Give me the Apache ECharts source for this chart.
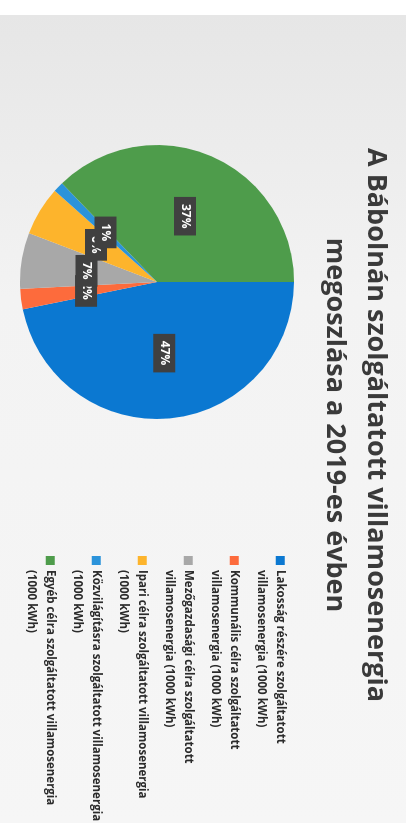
<!DOCTYPE html>
<html>
<head>
<meta charset="utf-8">
<script src="https://cdn.jsdelivr.net/npm/echarts@6/dist/echarts.min.js"></script>
<style>
    html, body {
        margin: 0;
        background: #ffffff;
        overflow: hidden;
    }
    /* a lap el van forgatva 90 fokkal, ezért a diagramot is elforgatjuk */
    #chart {
        position: absolute;
        left: 406px;
        top: 15px;
        width: 808px;
        height: 406px;
        transform-origin: 0 0;
        transform: rotate(90deg);
    }
</style>
</head>
<body>
<div id="chart"></div>
<script>
const categories = [
    'Lakosság részére szolgáltatott\nvillamosenergia (1000 kWh)',
    'Kommunális célra szolgáltatott\nvillamosenergia (1000 kWh)',
    'Mezőgazdasági célra szolgáltatott\nvillamosenergia (1000 kWh)',
    'Ipari célra szolgáltatott villamosenergia\n(1000 kWh)',
    'Közvilágításra szolgáltatott villamosenergia\n(1000 kWh)',
    'Egyéb célra szolgáltatott villamosenergia\n(1000 kWh)'
];
const values = [46.8, 2.4, 6.6, 5.8, 1.2, 37.2];
const colors = ['#0b78d1', '#fd6b3c', '#a8a8a8', '#fdb42c', '#2b93da', '#4e9c4b'];

const myChart = echarts.init(document.getElementById('chart'));

const option = {
    backgroundColor: {
        type: 'linear', x: 0, y: 0, x2: 1, y2: 0,
        colorStops: [
            { offset: 0, color: '#e6e6e6' },
            { offset: 0.35, color: '#f3f3f3' },
            { offset: 1, color: '#f6f6f6' }
        ]
    },
    title: {
        text: 'A Bábolnán szolgáltatott villamosenergia\nmegoszlása a 2019-es évben',
        left: 410,
        top: 10,
        padding: 0,
        textAlign: 'center',
        textStyle: {
            fontFamily: 'Open Sans',
            fontSize: 27,
            fontWeight: 'bold',
            color: '#3a3a3a',
            lineHeight: 41
        }
    },
    legend: {
        orient: 'vertical',
        left: 541,
        top: 98,
        padding: 0,
        itemWidth: 9,
        itemHeight: 9,
        itemGap: -9.5,
        icon: 'rect',
        data: categories,
        // üres első sor, hogy a jelölő az első szövegsor mellé kerüljön
        formatter: name => '\n' + name,
        textStyle: {
            fontFamily: 'Open Sans',
            fontSize: 11.5,
            fontWeight: 'bold',
            color: '#2b2b2b',
            lineHeight: 18.5
        }
    },
    color: colors,
    series: [
        {
            type: 'pie',
            center: [267, 249],
            radius: 137,
            startAngle: 90,
            clockwise: true,
            percentPrecision: 0,
            itemStyle: { borderWidth: 0 },
            emphasis: { disabled: true },
            labelLine: { show: false },
            labelLayout: { hideOverlap: false },
            label: {
                show: true,
                position: 'inside',
                formatter: '{d}%',
                fontFamily: 'Open Sans',
                fontSize: 12,
                fontWeight: 'bold',
                color: '#ffffff',
                backgroundColor: '#404040',
                padding: [5, 7]
            },
            data: categories.map((name, i) => ({ name: name, value: values[i] }))
        }
    ]
};
myChart.setOption(option);
</script>
</body>
</html>
